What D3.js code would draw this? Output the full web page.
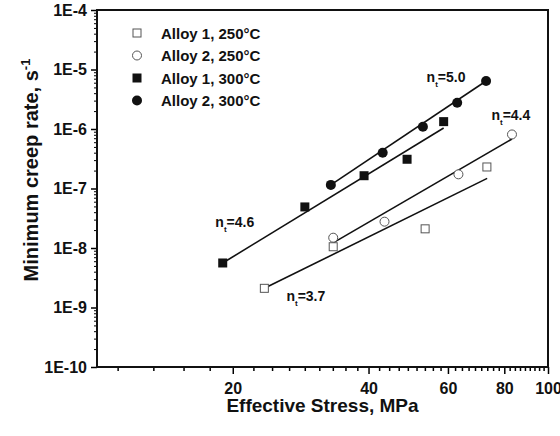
<!DOCTYPE html>
<html>
<head>
<meta charset="utf-8">
<title>Minimum creep rate</title>
<script src="https://d3js.org/d3.v7.min.js"></script>
<style>
  body { margin: 0; background: #fff; }
  text { font-family: Arial, "Liberation Sans", sans-serif; font-weight: bold; fill: #111; }
  .tick text { font-size: 16px; }
  .domain { display: none; }
</style>
</head>
<body>
<script>
// data (stress in MPa, rate in 1/s)
var a1_250_stress = [23.5, 33.4, 53.4, 73.2];
var a1_250_rate   = [2.1e-9, 1.05e-8, 2.1e-8, 2.3e-7];
var a2_250_stress = [33.4, 43.4, 63.3, 83.2];
var a2_250_rate   = [1.49e-8, 2.77e-8, 1.73e-7, 8.1e-7];
var a1_300_stress = [19.0, 28.9, 39.1, 48.7, 58.7];
var a1_300_rate   = [5.6e-9, 4.9e-8, 1.64e-7, 3.1e-7, 1.33e-6];
var a2_300_stress = [33.0, 43.0, 52.8, 62.9, 72.9];
var a2_300_rate   = [1.15e-7, 4.0e-7, 1.09e-6, 2.77e-6, 6.4e-6];

var seriesNames = ["Alloy 1, 250°C", "Alloy 2, 250°C", "Alloy 1, 300°C", "Alloy 2, 300°C"];

// fitted lines (end points) and their exponents
var fitStress = [[23.5, 73.3], [33.3, 83.2], [19.0, 58.7], [33.0, 72.9]];
var fitRate   = [[2.1e-9, 1.48e-7], [1.21e-8, 6.8e-7], [5.6e-9, 1.04e-6], [1.15e-7, 6.4e-6]];
var fitN      = ["3.7", "4.4", "4.6", "5.0"];
var fitLabelStress = [26.3, 74.9, 18.3, 53.8];
var fitLabelRate   = [1.29e-9, 1.42e-6, 2.25e-8, 6.2e-6];

var xMajor = [20, 40, 60, 80, 100];
var yMajor = [1e-10, 1e-9, 1e-8, 1e-7, 1e-6, 1e-5, 1e-4];
var yLabels = ["1E-10", "1E-9", "1E-8", "1E-7", "1E-6", "1E-5", "1E-4"];

var width = 560, height = 436;
var mLeft = 97, mRight = 548, mTop = 10, mBottom = 367;

var svg = d3.select("body").append("svg")
    .attr("width", width).attr("height", height);

var x = d3.scaleLog().domain([10, 100]).range([mLeft, mRight]);
var y = d3.scaleLog().domain([1e-10, 1e-4]).range([mBottom, mTop]);

// minor ticks
var xMinor = [];
for (var k = 5; k <= 45; k++) { if (k % 9 != 0) xMinor.push(k * 20 / 9); }
var yMinor = [];
yMajor.slice(0, -1).forEach(function(d) {
  for (var m = 2; m <= 9; m++) yMinor.push(d * m);
});

svg.append("g").attr("transform", "translate(0," + mBottom + ")")
  .call(d3.axisBottom(x).tickValues(xMinor).tickSize(4).tickFormat(""))
  .selectAll("line").attr("stroke-width", 1.5);
var xg = svg.append("g").attr("transform", "translate(0," + mBottom + ")")
  .call(d3.axisBottom(x).tickValues(xMajor).tickSize(7).tickPadding(9).tickFormat(d3.format("d")));
xg.selectAll("line").attr("stroke-width", 1.5);

svg.append("g").attr("transform", "translate(" + mLeft + ",0)")
  .call(d3.axisLeft(y).tickValues(yMinor).tickSize(3).tickFormat(""))
  .selectAll("line").attr("stroke-width", 1);
var yg = svg.append("g").attr("transform", "translate(" + mLeft + ",0)")
  .call(d3.axisLeft(y).tickValues(yMajor).tickSize(6).tickPadding(4)
    .tickFormat(function(d, i) { return yLabels[i]; }));
yg.selectAll("line").attr("stroke-width", 1.5);

// frame
svg.append("rect").attr("x", mLeft).attr("y", mTop)
  .attr("width", mRight - mLeft).attr("height", mBottom - mTop)
  .attr("fill", "none").attr("stroke", "#111").attr("stroke-width", 2);

// fit lines
var plot = svg.append("g");
fitStress.forEach(function(s, i) {
  plot.append("line")
    .attr("x1", x(s[0])).attr("y1", y(fitRate[i][0]))
    .attr("x2", x(s[1])).attr("y2", y(fitRate[i][1]))
    .attr("stroke", "#111").attr("stroke-width", 1.6);
});

// markers
function marker(g, type, cx, cy) {
  if (type == 0) g.append("rect").attr("x", cx - 4).attr("y", cy - 4).attr("width", 8).attr("height", 8)
      .attr("fill", "#fff").attr("stroke", "#555").attr("stroke-width", 1);
  if (type == 1) g.append("circle").attr("cx", cx).attr("cy", cy).attr("r", 4.5)
      .attr("fill", "#fff").attr("stroke", "#555").attr("stroke-width", 1);
  if (type == 2) g.append("rect").attr("x", cx - 4.5).attr("y", cy - 4.5).attr("width", 9).attr("height", 9)
      .attr("fill", "#111");
  if (type == 3) g.append("circle").attr("cx", cx).attr("cy", cy).attr("r", 5)
      .attr("fill", "#111");
}
var allStress = [a1_250_stress, a2_250_stress, a1_300_stress, a2_300_stress];
var allRate = [a1_250_rate, a2_250_rate, a1_300_rate, a2_300_rate];
allStress.forEach(function(s, i) {
  s.forEach(function(v, j) { marker(plot, i, x(v), y(allRate[i][j])); });
});

// n_t labels
fitN.forEach(function(n, i) {
  var t = svg.append("text")
    .attr("x", x(fitLabelStress[i])).attr("y", y(fitLabelRate[i]))
    .style("font-size", "14px");
  t.append("tspan").text("n");
  t.append("tspan").attr("dy", 5).style("font-size", "8px").text("t");
  t.append("tspan").attr("dy", -5).text("=" + n);
});

// legend
var legend = svg.append("g").selectAll("g").data(seriesNames).enter().append("g")
  .attr("transform", function(d, i) { return "translate(137," + (33 + i * 22.5) + ")"; });
legend.each(function(d, i) { marker(d3.select(this), i, 0, 0); });
legend.append("text").attr("x", 24).attr("y", 5.5)
  .style("font-size", "15px").text(function(d) { return d; });

// axis titles
svg.append("text").attr("x", (mLeft + mRight) / 2).attr("y", 412)
  .attr("text-anchor", "middle").style("font-size", "19px")
  .text("Effective Stress, MPa");
var yt = svg.append("text").attr("transform", "translate(38,170) rotate(-90)")
  .attr("text-anchor", "middle").style("font-size", "20px");
yt.append("tspan").text("Minimum creep rate, s");
yt.append("tspan").attr("dy", -8).style("font-size", "13px").text("-1");
</script>
</body>
</html>
